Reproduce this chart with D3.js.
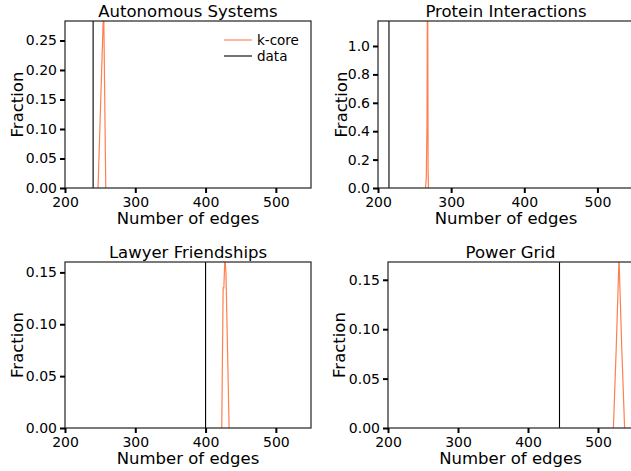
<!DOCTYPE html>
<html>
<head>
<meta charset="utf-8">
<script src="https://cdn.jsdelivr.net/npm/d3@7"></script>
<style>
  body { margin: 0; background: #fff; }
  svg { display: block; font-family: "DejaVu Sans", sans-serif; }
</style>
</head>
<body>
<div id="chart"></div>
<script>
// ---------------- data ----------------
const panelTitles = ["Autonomous Systems", "Protein Interactions", "Lawyer Friendships", "Power Grid"];
const dataEdges = [240, 215, 400, 445];          // observed number of edges (black line)
const xDomain = [200, 550];
const xTicks = [200, 300, 400, 500];
const yMax = [0.283, 1.176, 0.16, 0.168];
const yTicksAS = [0, 0.05, 0.10, 0.15, 0.20, 0.25];
const yTicksPI = [0, 0.2, 0.4, 0.6, 0.8, 1.0];
const yTicksLF = [0, 0.05, 0.10, 0.15];
const yTicksPG = [0, 0.05, 0.10, 0.15];
const yFormats = [".2f", ".1f", ".2f", ".2f"];
// k-core distributions (number of edges, fraction)
const kcoreEdgesAS = [247, 255, 258];
const kcoreFracAS  = [0, 0.31, 0];
const kcoreEdgesPI = [265, 266, 267, 267.5, 268, 268.5, 269];
const kcoreFracPI  = [0, 0.07, 0.45, 1.30, 1.30, 0.13, 0];
const kcoreEdgesLF = [423, 425, 426, 427.5, 429, 433.5];
const kcoreFracLF  = [0, 0.135, 0.135, 0.165, 0.15, 0];
const kcoreEdgesPG = [522, 526, 530, 534, 538];
const kcoreFracPG  = [0, 0.08, 0.172, 0.08, 0];
const legendLabels = ["k-core", "data"];

// ---------------- layout ----------------
const W = 631, H = 471;
const kcoreColor = "#ff7f50";
const boxes = [
  {l: 65,  r: 311, t: 21,  b: 188, ylab: 42},
  {l: 378, r: 634, t: 21,  b: 188, ylab: 31},
  {l: 65,  r: 311, t: 262, b: 428, ylab: 42},
  {l: 388, r: 633, t: 262, b: 428, ylab: 43}
];
const yTicksAll = [yTicksAS, yTicksPI, yTicksLF, yTicksPG];
const kE = [kcoreEdgesAS, kcoreEdgesPI, kcoreEdgesLF, kcoreEdgesPG];
const kF = [kcoreFracAS, kcoreFracPI, kcoreFracLF, kcoreFracPG];

const svg = d3.select("#chart").append("svg").attr("width", W).attr("height", H);

boxes.forEach((bx, i) => {
  const x = d3.scaleLinear().domain(xDomain).range([bx.l, bx.r]);
  const y = d3.scaleLinear().domain([0, yMax[i]]).range([bx.b, bx.t]);
  const g = svg.append("g");

  const clipId = "clip" + i;
  svg.append("clipPath").attr("id", clipId).append("rect")
    .attr("x", bx.l).attr("y", bx.t).attr("width", bx.r - bx.l).attr("height", bx.b - bx.t);

  const plot = g.append("g").attr("clip-path", `url(#${clipId})`);
  // data line
  plot.append("line")
    .attr("x1", x(dataEdges[i])).attr("x2", x(dataEdges[i]))
    .attr("y1", y(0)).attr("y2", y(yMax[i]))
    .attr("stroke", "#000").attr("stroke-width", 1.1);
  // k-core line
  const pts = kE[i].map((e, j) => [e, kF[i][j]]);
  plot.append("path")
    .datum(pts)
    .attr("d", d3.line().x(d => x(d[0])).y(d => y(d[1])))
    .attr("fill", "none").attr("stroke", kcoreColor).attr("stroke-width", 1.2);

  // spines
  g.append("rect")
    .attr("x", bx.l).attr("y", bx.t).attr("width", bx.r - bx.l).attr("height", bx.b - bx.t)
    .attr("fill", "none").attr("stroke", "#222").attr("stroke-width", 1.2);

  // axes
  const xa = g.append("g").attr("transform", `translate(0,${bx.b})`)
    .call(d3.axisBottom(x).tickValues(xTicks).tickSize(5).tickPadding(4.2).tickFormat(d3.format("d")));
  const ya = g.append("g").attr("transform", `translate(${bx.l},0)`)
    .call(d3.axisLeft(y).tickValues(yTicksAll[i]).tickSize(5).tickPadding(3).tickFormat(d3.format(yFormats[i])));
  [xa, ya].forEach(a => {
    a.select(".domain").remove();
    a.selectAll(".tick line").attr("stroke", "#000").attr("stroke-width", 2);
    a.selectAll(".tick text").attr("fill", "#000").style("font-size", "14px")
      .style("font-family", "'DejaVu Sans', sans-serif");
  });

  // title
  const cx = (bx.l + bx.r) / 2;
  g.append("text").attr("x", cx).attr("y", bx.t - 4).attr("text-anchor", "middle")
    .style("font-size", "16.5px").text(panelTitles[i]);
  // x label
  g.append("text").attr("x", cx).attr("y", bx.b + 36).attr("text-anchor", "middle")
    .style("font-size", "16.5px").text("Number of edges");
  // y label
  const cy = (bx.t + bx.b) / 2;
  g.append("text").attr("transform", `translate(${bx.l - bx.ylab},${cy}) rotate(-90)`)
    .attr("text-anchor", "middle").style("font-size", "16.5px").text("Fraction");
});

// legend (first panel)
const leg = svg.append("g");
const legColors = [kcoreColor, "#000"];
legendLabels.forEach((lab, j) => {
  const yy = 40 + j * 16;
  leg.append("line").attr("x1", 224).attr("x2", 252).attr("y1", yy).attr("y2", yy)
    .attr("stroke", legColors[j]).attr("stroke-width", 1.1);
  leg.append("text").attr("x", 257).attr("y", yy + 5).style("font-size", "13.5px").text(lab);
});
</script>
</body>
</html>
